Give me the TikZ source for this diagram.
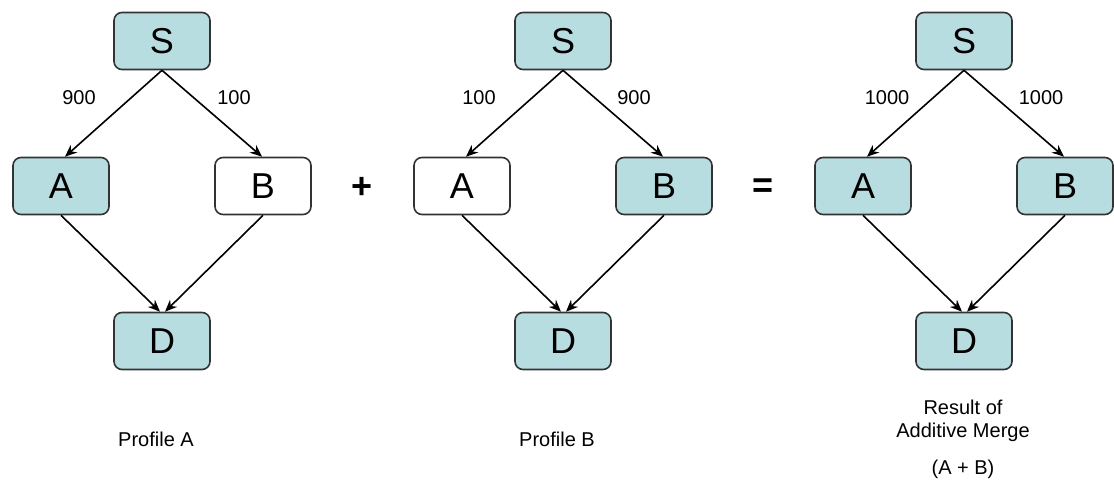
\documentclass[tikz,border=0pt]{standalone}
\usepackage{fontspec}
\setmainfont{Liberation Sans}
\usetikzlibrary{arrows.meta}
\definecolor{boxfill}{HTML}{B8DDE1}
\definecolor{boxline}{HTML}{333333}
\tikzset{
  vbox/.style={draw=boxline, line width=1.6pt, rounded corners=8pt,
    minimum width=96pt, minimum height=57pt, inner sep=0pt,
    font=\fontsize{36}{36}\selectfont},
  hot/.style={vbox, fill=boxfill},
  cold/.style={vbox, fill=white},
  flow/.style={-{Stealth[length=12pt,width=10pt]}, line width=1.6pt},
  weight/.style={font=\fontsize{20}{20}\selectfont},
  caption/.style={font=\fontsize{20}{23}\selectfont, align=center},
  op/.style={font=\fontsize{36}{36}\selectfont\bfseries}
}
\begin{document}
\begin{tikzpicture}[x=1pt, y=-1pt]
\useasboundingbox (0,0) rectangle (1114,489);

% Profile A
\node[hot]  (s1) at (162,41)  {S};
\node[hot]  (a1) at (61,186)  {A};
\node[cold] (b1) at (263,186) {B};
\node[hot]  (d1) at (162,341) {D};
\draw[flow] (s1.south) -- ([xshift=4pt]a1.north);
\draw[flow] (s1.south) -- ([xshift=-1pt]b1.north);
\draw[flow] (a1.south) -- ([xshift=-2pt]d1.north);
\draw[flow] (b1.south) -- ([xshift=3pt]d1.north);
\node[weight] (w1a) at (79,98)  {900};
\node[weight] (w1b) at (234,98) {100};
\node[caption] (c1) at (156,439) {Profile A};

\node[op] (plus) at (362,188) {+};

% Profile B
\node[hot]  (s2) at (563,41)  {S};
\node[cold] (a2) at (462,186) {A};
\node[hot]  (b2) at (664,186) {B};
\node[hot]  (d2) at (563,341) {D};
\draw[flow] (s2.south) -- ([xshift=4pt]a2.north);
\draw[flow] (s2.south) -- ([xshift=-1pt]b2.north);
\draw[flow] (a2.south) -- ([xshift=-2pt]d2.north);
\draw[flow] (b2.south) -- ([xshift=3pt]d2.north);
\node[weight] (w2a) at (479,98) {100};
\node[weight] (w2b) at (634,98) {900};
\node[caption] (c2) at (557,439) {Profile B};

\node[op] (eq) at (763,188) {=};

% Additive merge
\node[hot] (s3) at (964,41)  {S};
\node[hot] (a3) at (863,186) {A};
\node[hot] (b3) at (1065,186) {B};
\node[hot] (d3) at (964,341) {D};
\draw[flow] (s3.south) -- ([xshift=4pt]a3.north);
\draw[flow] (s3.south) -- ([xshift=-1pt]b3.north);
\draw[flow] (a3.south) -- ([xshift=-2pt]d3.north);
\draw[flow] (b3.south) -- ([xshift=3pt]d3.north);
\node[weight] (w3a) at (887,98)  {1000};
\node[weight] (w3b) at (1041,98) {1000};
\node[caption] (c3) at (963,421) {Result of\\Additive Merge};
\node[caption] (c3b) at (963,469) {(A + B)};
\end{tikzpicture}
\end{document}
